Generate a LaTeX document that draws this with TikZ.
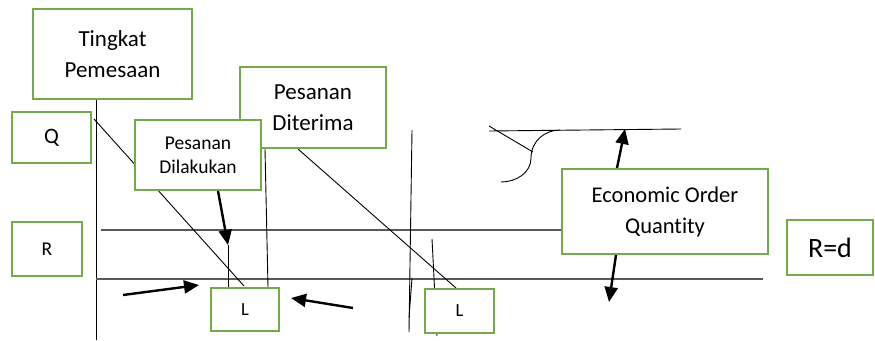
\documentclass[tikz,border=0pt]{standalone}
\usepackage{fontspec}
\setmainfont{Carlito}[Ligatures=NoCommon]
\usetikzlibrary{arrows.meta,calc}
\definecolor{boxgreen}{HTML}{70AD47}
\definecolor{rulegray}{HTML}{595959}

\tikzset{
  lbl/.style={draw=boxgreen, line width=2.4pt, fill=white, inner sep=0pt,
              align=center, text=black},
  thinline/.style={line width=0.9pt, black},
  guide/.style={line width=1.5pt, rulegray},
  pointer/.style={line width=2.4pt, black, -{Triangle[length=15pt,width=13pt]}},
}

\begin{document}
\begin{tikzpicture}[x=1pt,y=-1pt]
\useasboundingbox (0,0) rectangle (875,340);

% named end points of the free lines
\coordinate (axTop) at (96,100);
\coordinate (axBot) at (96,340);
\coordinate (rL) at (101,230);
\coordinate (rR) at (561,230);
\coordinate (bL) at (96,279);
\coordinate (bR) at (763,279);
\coordinate (qA) at (94,119);
\coordinate (qB) at (244,286);
\coordinate (dvA) at (265,149);
\coordinate (dvB) at (268,287);
\coordinate (ddA) at (298,149);
\coordinate (ddB) at (456,288);
\coordinate (vA) at (412,130);
\coordinate (vB) at (409,332);
\coordinate (vC) at (412,278);
\coordinate (vD) at (409,318);
\coordinate (sA) at (432,239);
\coordinate (sB) at (437,336);
\coordinate (dlTip) at (228,245);
\coordinate (dlEnd) at (228,287);
\coordinate (tL) at (489,131);
\coordinate (tR) at (681,129);
\coordinate (kA) at (489,126);
\coordinate (kB) at (533,152);
\coordinate (cA) at (560,130);
\coordinate (cM) at (531,158);
\coordinate (cB) at (501,182);
\coordinate (upTip) at (625,129);
\coordinate (dnTip) at (609,302);
\coordinate (a1A) at (123,295);
\coordinate (a1B) at (199,285);
\coordinate (a2A) at (353,308);
\coordinate (a2B) at (291,298);

% axes and level lines
\draw[thinline] (axTop) -- (axBot);
\draw[guide] (rL) -- (rR);
\draw[guide] (bL) -- (bR);

% stock depletion lines
\draw[thinline] (qA) -- (qB);
\draw[thinline] (dvA) -- (dvB);
\draw[thinline] (ddA) -- (ddB);
\draw[thinline] (vA) -- (vB);
\draw[thinline] (vC) -- (vD);
\draw[thinline] (sA) -- (sB);
\draw[thinline] (dlTip) -- (dlEnd);

% cost curve sketch
\draw[thinline] (tL) -- (tR);
\draw[thinline] (kA) -- (kB);
\draw[thinline] (cA) .. controls (545,130) and (531,141) .. (cM)
                     .. controls (531,173) and (516,182) .. (cB);

% labels
\node[lbl, minimum width=158.6pt, minimum height=89.6pt,
      font=\fontsize{23}{31}\selectfont] (ting) at (112.5,54) {Tingkat\\Pemesaan};
\node[lbl, minimum width=145.6pt, minimum height=80.6pt,
      font=\fontsize{23}{31}\selectfont] (dit) at (313,107.5) {Pesanan\\Diterima};
\node[lbl, minimum width=125.6pt, minimum height=69.6pt,
      font=\fontsize{19.5}{24}\selectfont] (dil) at (198,155) {Pesanan\\Dilakukan};
\node[lbl, minimum width=78.6pt, minimum height=50.6pt,
      font=\fontsize{22}{26}\selectfont] (q) at (51.5,137.5) {Q};
\node[lbl, minimum width=69.6pt, minimum height=53.6pt,
      font=\fontsize{19.5}{23}\selectfont] (r) at (47,249) {R};
\node[lbl, minimum width=67.6pt, minimum height=42.6pt,
      font=\fontsize{18.5}{22}\selectfont] (l1) at (245,309.5) {\raisebox{-3pt}{L}};
\node[lbl, minimum width=68.6pt, minimum height=43.6pt,
      font=\fontsize{18.5}{22}\selectfont] (l2) at (459.5,311) {\raisebox{-3pt}{L}};
\node[lbl, minimum width=205.6pt, minimum height=84.6pt,
      font=\fontsize{22.5}{31}\selectfont] (eoq) at (665,211.5) {Economic Order\\Quantity};
\node[lbl, minimum width=85.6pt, minimum height=54.6pt,
      font=\fontsize{28}{32}\selectfont] (rd) at (830,247.5) {R=d};

% pointers
\draw[pointer] (dil.south -| 218,0) -- (dlTip);
\draw[pointer] (a1A) -- (a1B);
\draw[pointer] (a2A) -- (a2B);
\draw[pointer] (eoq.north -| 617,0) -- (upTip);
\draw[pointer] (eoq.south -| 616,0) -- (dnTip);
\end{tikzpicture}
\end{document}
